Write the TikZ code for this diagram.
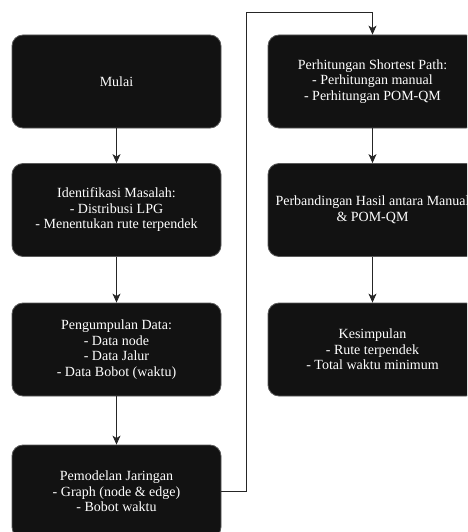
\documentclass[tikz,border=0pt]{standalone}
\usepackage{fontspec}
\setmainfont{Liberation Serif}
\usetikzlibrary{arrows.meta}
\begin{document}
\begin{tikzpicture}[x=1pt,y=-1pt,
  box/.style={draw=black!65, line width=0.8pt, fill=black!93, rounded corners=11pt,
    minimum width=209pt, minimum height=93pt, inner sep=0pt,
    text=white, align=center, font=\fontsize{14}{15.5}\selectfont},
  conn/.style={draw=black!85, line width=0.9pt, -{Stealth[length=9pt,width=8pt,inset=2.5pt]}},
  line/.style={draw=black!75, line width=0.9pt}]
\useasboundingbox (0,0) rectangle (467,532);
\clip (0,0) rectangle (467,532);
\node[box] (mulai) at (116.5,81.5) {Mulai};
\node[box] (ident) at (116.5,210) {Identifikasi Masalah:\\- Distribusi LPG\\- Menentukan rute terpendek};
\node[box] (data) at (116.5,349.5) {Pengumpulan Data:\\- Data node\\- Data Jalur\\- Data Bobot (waktu)};
\node[box] (model) at (116.5,491.5) {Pemodelan Jaringan\\- Graph (node \& edge)\\- Bobot waktu};
\node[box] (hitung) at (372.5,81.5) {Perhitungan Shortest Path:\\- Perhitungan manual\\- Perhitungan POM-QM};
\node[box] (banding) at (372.5,210) {Perbandingan Hasil antara Manual\\\& POM-QM};
\node[box] (simpul) at (372.5,349.5) {Kesimpulan\\- Rute terpendek\\- Total waktu minimum};
\coordinate (c1) at (246.5,491.5);
\coordinate (c2) at (246.5,12);
\coordinate (c3) at (372.5,12);
\draw[conn] (mulai) -- (ident);
\draw[conn] (ident) -- (data);
\draw[conn] (data) -- (model);
\draw[conn] (model.east) -- (c1) -- (c2) -- (c3) -- (hitung.north);
\draw[conn] (hitung) -- (banding);
\draw[conn] (banding) -- (simpul);
\end{tikzpicture}
\end{document}
